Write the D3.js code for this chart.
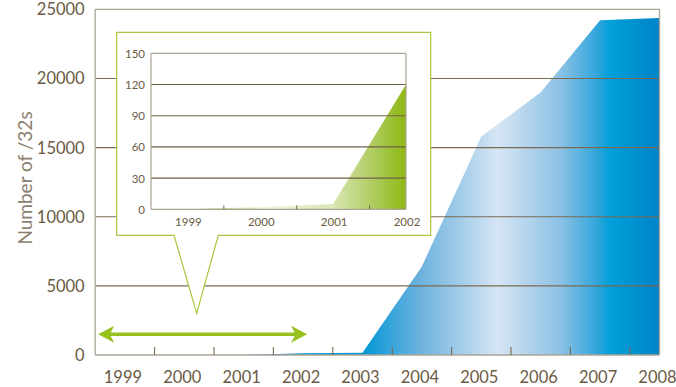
<!DOCTYPE html>
<html>
<head>
<meta charset="utf-8">
<script src="https://cdn.jsdelivr.net/npm/d3@7"></script>
<style>
  html, body { margin: 0; padding: 0; background: #ffffff; }
  svg { display: block; }
  text { font-family: Lato, "Open Sans", sans-serif; }
</style>
</head>
<body>
<svg id="chart" width="676" height="387"></svg>
<script>
// ---- data ----
const years = [1999, 2000, 2001, 2002, 2003, 2004, 2005, 2006, 2007, 2008];
const counts = [0, 2, 5, 120, 170, 6400, 15800, 19000, 24200, 24370];
const yTicks = [0, 5000, 10000, 15000, 20000, 25000];

const insetYears = [1999, 2000, 2001, 2002];
const insetCounts = [0, 2, 5, 120];
const insetYTicks = [0, 30, 60, 90, 120, 150];

const yTitle = "Number of /32s";

// ---- layout ----
const svg = d3.select("#chart");
const m = { left: 95.2, right: 659.5, top: 9.3, bottom: 355 };

const x = d3.scaleLinear().domain([years[0] - 0.5, years[years.length - 1]]).range([m.left, m.right]);
const y = d3.scaleLinear().domain([0, 25000]).range([m.bottom, m.top]);

const gridColor = "#7b6a53";
const axisColor = "#aba497";
const labelColor = "#6b5b45";

const defs = svg.append("defs");
const blue = defs.append("linearGradient").attr("id", "blueGrad")
  .attr("gradientUnits", "userSpaceOnUse")
  .attr("x1", m.left).attr("x2", m.right).attr("y1", 0).attr("y2", 0);
[[0.0, "#0a8fcf"], [0.30, "#0a8fcf"], [0.473, "#0096d6"], [0.575, "#6cb2de"], [0.714, "#d6e5f4"],
 [0.824, "#8cc1e5"], [0.891, "#2ea5db"], [0.912, "#00a0d8"], [1.0, "#0083c7"]]
  .forEach(([o, c]) => blue.append("stop").attr("offset", o).attr("stop-color", c));

// main area
const area = d3.area()
  .x((d, i) => x(years[i]))
  .y0(y(0))
  .y1(d => y(d));
svg.append("path").datum(counts).attr("d", area).attr("fill", "url(#blueGrad)");

// gridlines (drawn over area)
svg.append("g").selectAll("line").data(yTicks.filter(t => t > 0 && t < 25000)).join("line")
  .attr("x1", m.left).attr("x2", m.right)
  .attr("y1", d => y(d)).attr("y2", d => y(d))
  .attr("stroke", gridColor).attr("stroke-width", 1.1);

// frame: top, right, left, bottom
svg.append("line").attr("x1", m.left).attr("x2", m.right).attr("y1", y(25000)).attr("y2", y(25000))
  .attr("stroke", axisColor).attr("stroke-width", 1.3);
svg.append("line").attr("x1", m.right).attr("x2", m.right).attr("y1", y(25000)).attr("y2", y(0))
  .attr("stroke", axisColor).attr("stroke-width", 1.3);
svg.append("line").attr("x1", m.left).attr("x2", m.left).attr("y1", y(25000)).attr("y2", y(0))
  .attr("stroke", axisColor).attr("stroke-width", 1.3);
svg.append("line").attr("x1", m.left).attr("x2", m.right).attr("y1", y(0)).attr("y2", y(0))
  .attr("stroke", axisColor).attr("stroke-width", 1.3);

// x ticks (between years)
svg.append("g").selectAll("line").data(years.slice(0, -1)).join("line")
  .attr("x1", d => x(d + 0.5)).attr("x2", d => x(d + 0.5))
  .attr("y1", y(0)).attr("y2", y(0) - 8)
  .attr("stroke", gridColor).attr("stroke-width", 1.1);

// y labels
svg.append("g").selectAll("text").data(yTicks).join("text")
  .attr("x", m.left - 10.5).attr("y", d => y(d))
  .attr("text-anchor", "end").attr("dominant-baseline", "central")
  .attr("font-size", 16.5).attr("fill", labelColor)
  .text(d => d);

// x labels
svg.append("g").selectAll("text").data(years).join("text")
  .attr("x", d => x(d) - 2).attr("y", 377)
  .attr("text-anchor", "middle").attr("dominant-baseline", "central")
  .attr("font-size", 16.5).attr("fill", labelColor)
  .text(d => d);

// y title
svg.append("text")
  .attr("transform", "translate(24,178) rotate(-90)")
  .attr("text-anchor", "middle").attr("dominant-baseline", "central")
  .attr("font-size", 19).attr("fill", "#8b7f6f").attr("font-weight", 400)
  .text(yTitle);

// green double arrow over 1999-2002
const aY = y(1500), aL = x(1998.5) + 3, aR = x(2002) + 4;
const hl = 16, hh = 8.4, sw = 1.8, notch = 3.5;
const arrowPath = [
  [aL, aY], [aL + hl, aY - hh], [aL + hl - notch, aY - sw], [aR - hl + notch, aY - sw],
  [aR - hl, aY - hh], [aR, aY], [aR - hl, aY + hh], [aR - hl + notch, aY + sw],
  [aL + hl - notch, aY + sw], [aL + hl, aY + hh]
];
svg.append("path").attr("d", d3.line()(arrowPath) + "Z").attr("fill", "#97c11f");

// ---- callout box ----
const bx0 = 116.7, by0 = 32.3, bx1 = 430.7, by1 = 235.3;
const p0 = 174, p1 = 218.3, tipX = 196.7, tipY = 313.3;
const callout = [[bx0, by0], [bx1, by0], [bx1, by1], [p1, by1], [tipX, tipY], [p0, by1], [bx0, by1]];
svg.append("path").attr("d", d3.line()(callout) + "Z")
  .attr("fill", "#ffffff").attr("stroke", "#a6c83c").attr("stroke-width", 1.2);

// ---- inset ----
const im = { left: 151, right: 406, top: 53.3, bottom: 209.3 };
const ix = d3.scaleLinear().domain([insetYears[0] - 0.5, insetYears[insetYears.length - 1]]).range([im.left, im.right]);
const iy = d3.scaleLinear().domain([0, 150]).range([im.bottom, im.top]);

const green = defs.append("linearGradient").attr("id", "greenGrad")
  .attr("gradientUnits", "userSpaceOnUse")
  .attr("x1", im.left).attr("x2", im.right).attr("y1", 0).attr("y2", 0);
[[0.0, "#a8c84a"], [0.14, "#a8c84a"], [0.45, "#eef4dc"], [0.71, "#dae8b6"], [0.82, "#bdd47a"],
 [0.9, "#a7c74f"], [1.0, "#8fb812"]]
  .forEach(([o, c]) => green.append("stop").attr("offset", o).attr("stop-color", c));

const iarea = d3.area()
  .x((d, i) => ix(insetYears[i]))
  .y0(iy(0))
  .y1(d => iy(d));
svg.append("path").datum(insetCounts).attr("d", iarea).attr("fill", "url(#greenGrad)");

svg.append("g").selectAll("line").data(insetYTicks.filter(t => t > 0 && t < 150)).join("line")
  .attr("x1", im.left).attr("x2", im.right)
  .attr("y1", d => iy(d)).attr("y2", d => iy(d))
  .attr("stroke", "#6e5f48").attr("stroke-width", 1.1);

svg.append("line").attr("x1", im.left).attr("x2", im.right).attr("y1", iy(150)).attr("y2", iy(150))
  .attr("stroke", axisColor).attr("stroke-width", 1.2);
svg.append("line").attr("x1", im.right).attr("x2", im.right).attr("y1", iy(150)).attr("y2", iy(0))
  .attr("stroke", axisColor).attr("stroke-width", 1.2);
svg.append("line").attr("x1", im.left).attr("x2", im.left).attr("y1", iy(150)).attr("y2", iy(0))
  .attr("stroke", axisColor).attr("stroke-width", 1.2);
svg.append("line").attr("x1", im.left).attr("x2", im.right).attr("y1", iy(0)).attr("y2", iy(0))
  .attr("stroke", axisColor).attr("stroke-width", 1.2);

svg.append("g").selectAll("line").data(insetYears.slice(0, -1)).join("line")
  .attr("x1", d => ix(d + 0.5)).attr("x2", d => ix(d + 0.5))
  .attr("y1", iy(0)).attr("y2", iy(0) - 4)
  .attr("stroke", gridColor).attr("stroke-width", 1);

svg.append("g").selectAll("text").data(insetYTicks).join("text")
  .attr("x", im.left - 6).attr("y", d => iy(d))
  .attr("text-anchor", "end").attr("dominant-baseline", "central")
  .attr("font-size", 11.5).attr("fill", labelColor)
  .text(d => d);

svg.append("g").selectAll("text").data(insetYears).join("text")
  .attr("x", d => ix(d) + 1).attr("y", 221.5)
  .attr("text-anchor", "middle").attr("dominant-baseline", "central")
  .attr("font-size", 11.5).attr("fill", labelColor)
  .text(d => d);
</script>
</body>
</html>
